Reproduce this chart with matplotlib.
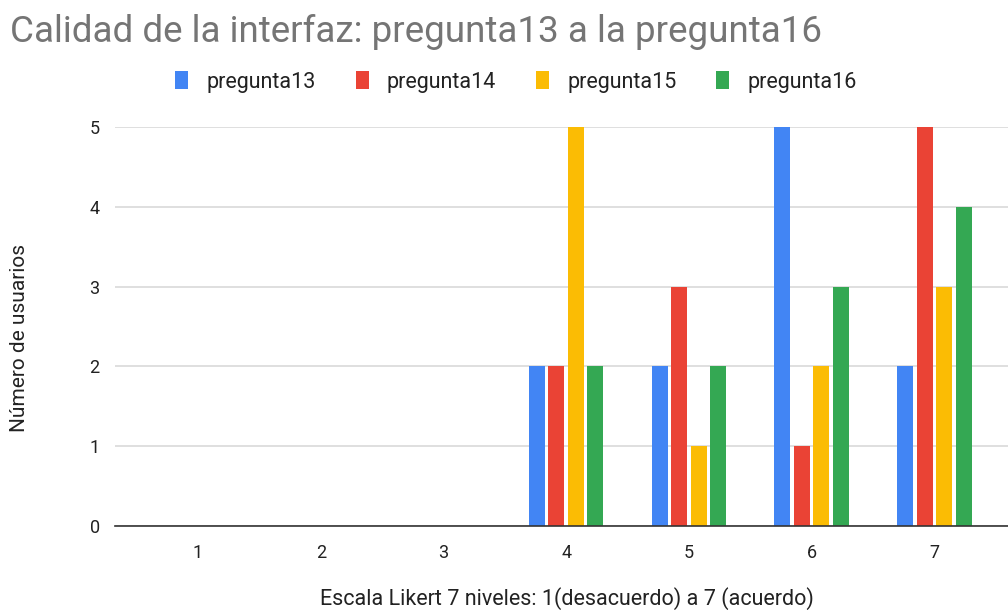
import matplotlib.pyplot as plt
import numpy as np

categories = ["1", "2", "3", "4", "5", "6", "7"]
series_names = ["pregunta13", "pregunta14", "pregunta15", "pregunta16"]
pregunta13 = [0, 0, 0, 2, 2, 5, 2]
pregunta14 = [0, 0, 0, 2, 3, 1, 5]
pregunta15 = [0, 0, 0, 5, 1, 2, 3]
pregunta16 = [0, 0, 0, 2, 2, 3, 4]
colors = ["#4285F4", "#EA4335", "#FBBC04", "#34A853"]

plt.rcParams["font.family"] = ["Roboto", "DejaVu Sans"]

fig = plt.figure(figsize=(10.08, 6.1), dpi=100)
ax = fig.add_axes([115 / 1008, 84 / 610, 1 - 115 / 1008, (526 - 127) / 610])

x = np.arange(1, len(categories) + 1)
step = 0.159
width = 0.13
for i, (name, vals) in enumerate(zip(series_names, [pregunta13, pregunta14, pregunta15, pregunta16])):
    ax.bar(x + (i - 1.5) * step, vals, width, color=colors[i], label=name, zorder=3)

ax.set_xlim(0.324, 7.6)
ax.set_ylim(0, 5)
ax.set_xticks(x)
ax.set_xticklabels(categories)
ax.set_yticks(range(6))
ax.tick_params(length=0, labelsize=13, colors="#222222", pad=13)
ax.tick_params(axis="y", pad=11)
ax.grid(axis="y", color="#d9d9d9", linewidth=1.2, zorder=0)
for side in ["top", "right", "left"]:
    ax.spines[side].set_visible(False)
ax.spines["bottom"].set_color("#333333")
ax.spines["bottom"].set_linewidth(1.2)
ax.spines["bottom"].set_zorder(4)

fig.text(567 / 1008, 1 - 599 / 610, "Escala Likert 7 niveles: 1(desacuerdo) a 7 (acuerdo)",
         fontsize=15.5, color="#222222", ha="center", va="center")
fig.text(20 / 1008, 1 - 338 / 610, "Número de usuarios", rotation=90, fontsize=15,
         color="#222222", ha="center", va="center")
fig.text(10 / 1008, 1 - 32 / 610, "Calidad de la interfaz: pregunta13 a la pregunta16",
         fontsize=26.5, color="#757575", ha="left", va="center")

fig.legend(loc="center", bbox_to_anchor=(516 / 1008, 1 - 82 / 610), ncol=4, frameon=False,
           fontsize=15.5, handlelength=0.6, handleheight=0.9, columnspacing=1.85,
           handletextpad=0.85, labelcolor="#222222")

fig.savefig("out.png", dpi=100)
